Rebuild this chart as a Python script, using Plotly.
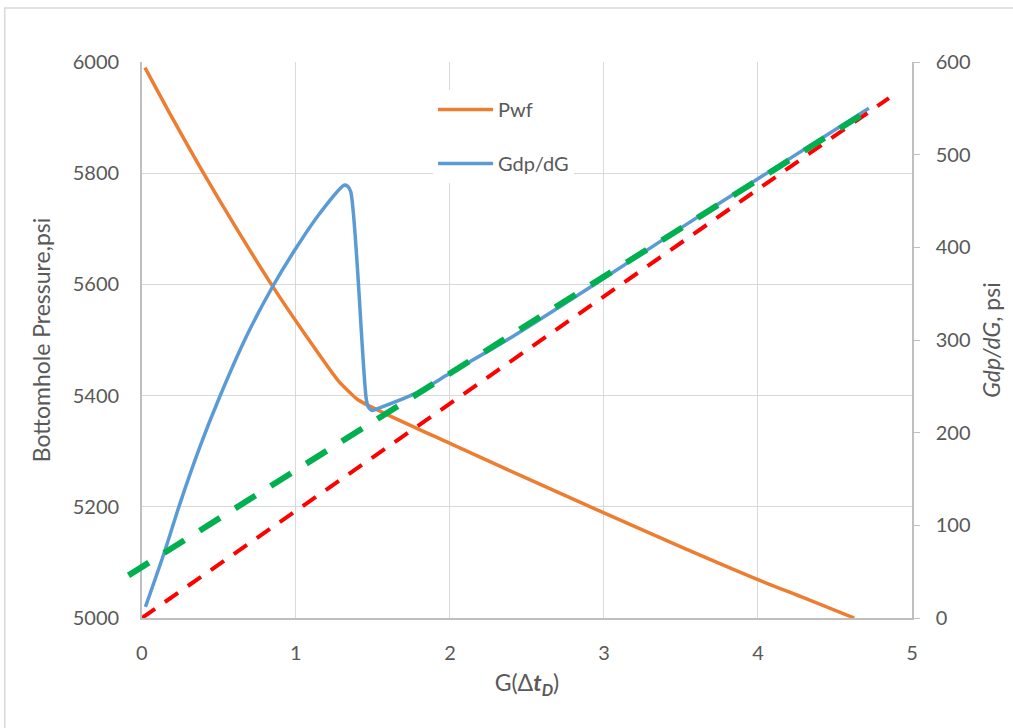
import plotly.graph_objects as go

# ---- data ----
pwf_x = [0.02, 0.2, 0.4, 0.6, 0.85, 1.07, 1.28, 1.345, 1.40, 1.6, 2.0, 2.5, 3.0, 3.5, 4.0, 4.3, 4.625]
pwf_y = [5990, 5898, 5800, 5707, 5596, 5506, 5425, 5407, 5393, 5365, 5314, 5251, 5189, 5128, 5069, 5036, 5000]

gdp_x = [0.023, 0.152, 0.248, 0.377, 0.506, 0.679, 0.85, 1.0, 1.152, 1.313, 1.335, 1.356,
         1.457, 1.472, 1.495, 1.539, 1.797, 2.0, 2.4, 2.958, 3.5, 4.0, 4.72]
gdp_y = [12, 74, 124, 185, 239, 304, 358, 399, 436, 467, 466, 460,
         236, 227, 224, 226.5, 244, 264, 303, 362, 421, 474, 550]

red_x = [0.0, 4.85]
red_y = [0.0, 561]

green_x = [-0.087, 4.72]
green_y = [46, 548]

x_ticks = [0, 1, 2, 3, 4, 5]
left_ticks = [5000, 5200, 5400, 5600, 5800, 6000]
right_ticks = [0, 100, 200, 300, 400, 500, 600]

FONT = "Lato"
TXT = "#595959"
GRID = "#d9d9d9"
AXL = "#bfbfbf"

W, H = 1013, 728
ML, MR, MT, MB = 126, 96, 62, 110
PW = W - ML - MR
PH = H - MT - MB
x_off = 16 / PW  # main domain starts 16 px right of the plot-area edge

fig = go.Figure()

fig.add_trace(go.Scatter(x=pwf_x, y=pwf_y, mode="lines", name="Pwf",
                         line=dict(color="#ED7D31", width=3.5, shape="spline", smoothing=0.8),
                         xaxis="x", yaxis="y", legendgroup="a"))
fig.add_trace(go.Scatter(x=gdp_x, y=gdp_y, mode="lines", name="Gdp/dG",
                         line=dict(color="#5B9BD5", width=3.5, shape="spline", smoothing=0.8),
                         xaxis="x", yaxis="y2", legendgroup="b"))
fig.add_trace(go.Scatter(x=red_x, y=red_y, mode="lines", showlegend=False,
                         line=dict(color="#FF0000", width=4, dash="16px,12px"),
                         xaxis="x", yaxis="y2"))
fig.add_trace(go.Scatter(x=green_x, y=green_y, mode="lines", showlegend=False,
                         line=dict(color="#00B050", width=6, dash="24px,18px"),
                         xaxis="x3", yaxis="y3"))

tickfont = dict(family=FONT, size=20, color=TXT)
titlefont = dict(family=FONT, size=23, color=TXT)

fig.update_layout(
    width=W, height=H,
    margin=dict(l=ML, r=MR, t=MT, b=MB, pad=0),
    paper_bgcolor="white",
    plot_bgcolor="rgba(0,0,0,0)",
    font=dict(family=FONT, color=TXT),
    xaxis=dict(domain=[x_off, 1], range=[0, 5], tickvals=x_ticks, showgrid=True,
               gridcolor=GRID, gridwidth=1, zeroline=False, showline=True,
               linecolor=AXL, linewidth=1.5, ticks="", tickfont=tickfont,
               ticklabelstandoff=16,
               title=dict(text="G(Δ<b><i>t</i></b><sub><b><i>D</i></b></sub>)",
                          font=titlefont, standoff=12),
               anchor="y"),
    yaxis=dict(domain=[0, 1], range=[5000, 6000], tickvals=left_ticks, showgrid=True,
               gridcolor=GRID, gridwidth=1, zeroline=False, showline=True,
               linecolor=AXL, linewidth=1.5, ticks="", tickfont=tickfont,
               ticklabelstandoff=17,
               title=dict(text="Bottomhole Pressure,psi", font=titlefont, standoff=16),
               anchor="x"),
    yaxis2=dict(range=[0, 600], tickvals=right_ticks, overlaying="y", side="right",
                anchor="x", showgrid=False, zeroline=False, showline=True,
                linecolor=AXL, linewidth=1.5, ticks="outside", ticklen=6,
                tickcolor=AXL, tickfont=tickfont, ticklabelstandoff=12,
                title=dict(text="<i>Gdp/dG</i>, psi", font=titlefont, standoff=14)),
    xaxis3=dict(domain=[0, 1], range=[-x_off * 5 / (1 - x_off), 5], visible=False,
                anchor="y3", fixedrange=True),
    yaxis3=dict(domain=[0, 1], range=[0, 600], visible=False, anchor="x3",
                fixedrange=True),
    legend=dict(x=(435 - ML) / PW, y=1 - (90 - MT) / PH, xanchor="left", yanchor="top",
                bgcolor="white", font=dict(family=FONT, size=20, color=TXT),
                traceorder="grouped", tracegroupgap=25, itemwidth=55),
    showlegend=True,
    shapes=[dict(type="rect", xref="paper", yref="paper",
                 x0=(4 - ML) / PW, x1=1 + 300 / PW,
                 y0=-300 / PH, y1=1 + (MT - 8) / PH,
                 line=dict(color=GRID, width=1.5), fillcolor="rgba(0,0,0,0)",
                 layer="below")],
)

fig.write_html("out.html")
